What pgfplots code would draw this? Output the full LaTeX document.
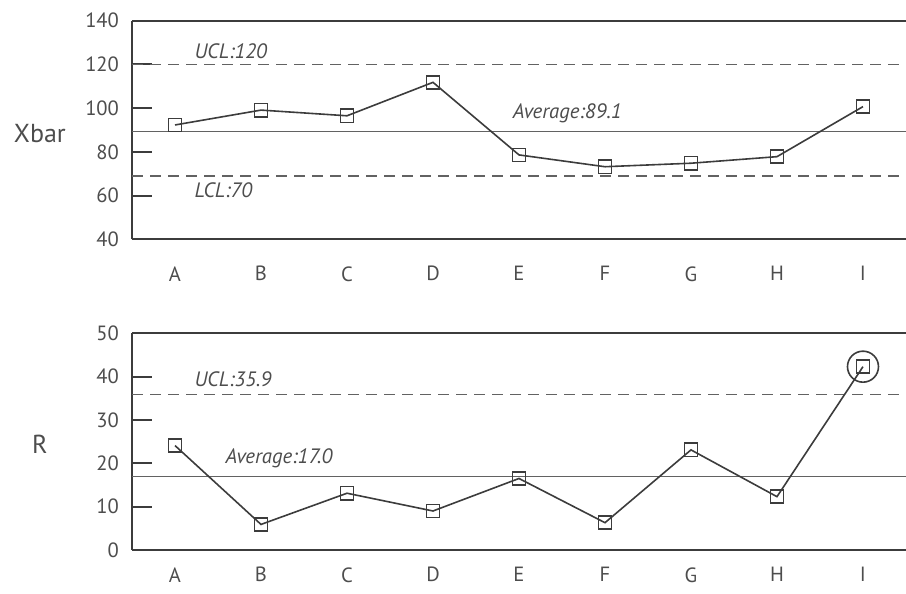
\documentclass[border=0pt]{standalone}
\usepackage{pgfplots}
\pgfplotsset{compat=1.18}
\usepackage{fontspec}
\setmainfont{PT Sans}
\definecolor{ink}{HTML}{3C3C3C}
\definecolor{txt}{HTML}{4D4D4D}
\definecolor{refl}{HTML}{626262}

\pgfplotsset{spc/.style={
    scale only axis, width=387pt, anchor=south west,
    xmin=-0.5, xmax=8.5,
    xtick={0,...,8}, xticklabels={A,B,C,D,E,F,G,H,I},
    major x tick style={draw=none},
    axis lines=left, axis line style={-, draw=ink, line width=1pt},
    tick align=inside, major tick length=10pt,
    ytick style={draw=ink, line width=1pt},
    /pgf/number format/assume math mode=true,
    ticklabel style={text=txt, font=\fontsize{10.3}{10.3}\selectfont},
    yticklabel style={xshift=-3pt},
    ylabel style={rotate=-90, text=txt, font=\fontsize{13}{13}\selectfont},
    clip=false,
  },
  ctl/.style={refl, line width=0.9pt, dash pattern=on 5.5pt off 3.5pt, forget plot},
  avg/.style={refl, line width=0.5pt, forget plot},
  dat/.style={ink, line width=0.8pt, mark=square, mark size=3.3pt,
    mark options={solid, fill=white, line width=0.8pt}},
}
\tikzset{note/.style={text=txt, font=\itshape\fontsize{10.4}{10.4}\selectfont, inner sep=1pt}}

\begin{document}
\begin{tikzpicture}
\path[use as bounding box] (0,0) rectangle (453pt,297pt);

% Xbar chart
\begin{axis}[spc, at={(66pt,177.35pt)}, height=109.3pt,
    ymin=40, ymax=140, ytick={40,60,...,140},
    xticklabel style={yshift=-10pt},
    ylabel={Xbar}, ylabel style={at={(axis description cs:-0.119,0.486)}, anchor=center}]
  \addplot[ctl] coordinates {(-0.5,120) (8.5,120)};
  \addplot[ctl] coordinates {(-0.5,69) (8.5,69)};
  \addplot[avg] coordinates {(-0.5,89.1) (8.5,89.1)};
  \addplot[dat] coordinates {
    (0,92.3) (1,99.1) (2,96.5) (3,111.8) (4,78.6)
    (5,73.2) (6,74.8) (7,77.8) (8,100.7)};
  \node[note, anchor=south west] at (axis cs:0.2,121.5) {UCL:120};
  \node[note, anchor=north west] at (axis cs:0.2,67) {LCL:70};
  \node[note, anchor=south west] at (axis cs:3.9,92) {Average:89.1};
  \draw[ink, line width=1pt] (rel axis cs:0,1) -- (rel axis cs:1,1);
\end{axis}

% R chart
\begin{axis}[spc, at={(66pt,22pt)}, height=108.35pt,
    ymin=0, ymax=50, ytick={0,10,...,50},
    xticklabel style={yshift=-7.5pt, inner sep=1pt},
    ylabel={R}, ylabel style={at={(axis description cs:-0.119,0.49)}, anchor=center}]
  \addplot[ctl] coordinates {(-0.5,35.9) (8.5,35.9)};
  \addplot[avg] coordinates {(-0.5,17.0) (8.5,17.0)};
  \addplot[dat] coordinates {
    (0,24.1) (1,5.9) (2,13.1) (3,9.0) (4,16.5)
    (5,6.3) (6,23.1) (7,12.3) (8,42.3)};
  \node[note, anchor=south west] at (axis cs:0.2,37) {UCL:35.9};
  \node[note, anchor=south west] at (axis cs:0.56,18.3) {Average:17.0};
  \node[draw=ink, line width=0.8pt, circle, minimum size=15.5pt, inner sep=0pt] at (axis cs:8,42.3) {};
  \draw[ink, line width=1pt] (rel axis cs:0,1) -- (rel axis cs:1,1);
\end{axis}
\end{tikzpicture}
\end{document}
